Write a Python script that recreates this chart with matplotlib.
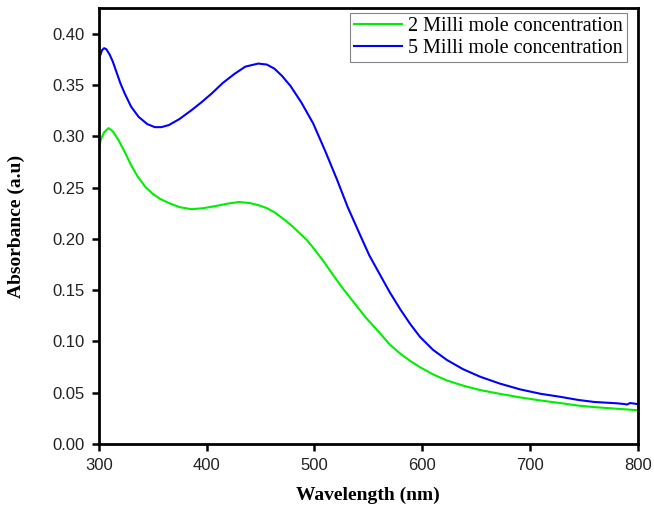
import matplotlib
matplotlib.use("Agg")
import matplotlib.pyplot as plt

# Values
wl_2mm = [300, 302, 305, 309, 313, 318, 324, 330, 336, 343, 350, 357, 365, 375, 386,
          397, 408, 420, 430, 440, 448, 456, 463, 472, 480, 487, 493, 500, 508, 518,
          527, 536, 548, 561, 570, 580, 589, 598, 610, 623, 638, 654, 672, 691, 710,
          728, 745, 760, 780, 800]
abs_2mm = [0.287, 0.297, 0.304, 0.308, 0.305, 0.297, 0.285, 0.272, 0.261, 0.251, 0.244,
           0.239, 0.235, 0.231, 0.229, 0.230, 0.232, 0.2345, 0.236, 0.235, 0.233, 0.230,
           0.226, 0.219, 0.212, 0.205, 0.199, 0.190, 0.179, 0.164, 0.151, 0.139, 0.123,
           0.108, 0.097, 0.088, 0.081, 0.075, 0.068, 0.062, 0.057, 0.0526, 0.049,
           0.0455, 0.0425, 0.040, 0.0375, 0.036, 0.0345, 0.033]

wl_5mm = [300, 301, 303, 305, 307, 310, 313, 316, 320, 324, 330, 337, 345, 352, 358,
          365, 375, 386, 395, 405, 415, 426, 436, 448, 456, 463, 470, 478, 488, 499,
          510, 521, 531, 542, 551, 561, 570, 580, 589, 598, 610, 623, 638, 654, 672,
          691, 710, 728, 745, 760, 780, 788, 790, 793, 800]
abs_5mm = [0.374, 0.378, 0.384, 0.386, 0.385, 0.380, 0.373, 0.364, 0.352, 0.342, 0.329,
           0.319, 0.312, 0.309, 0.309, 0.311, 0.317, 0.3255, 0.333, 0.342, 0.352, 0.361,
           0.368, 0.371, 0.370, 0.366, 0.359, 0.349, 0.333, 0.3125, 0.286, 0.258,
           0.231, 0.205, 0.184, 0.165, 0.148, 0.131, 0.117, 0.1046, 0.092, 0.082,
           0.073, 0.0656, 0.059, 0.0533, 0.049, 0.0461, 0.043, 0.041, 0.0398, 0.039,
           0.0385, 0.040, 0.039]

x_ticks = [300, 400, 500, 600, 700, 800]
y_ticks = [0.00, 0.05, 0.10, 0.15, 0.20, 0.25, 0.30, 0.35, 0.40]

fig = plt.figure(figsize=(6.54, 5.11), dpi=100)
ax = fig.add_axes([0.151, 0.131, 0.824, 0.853])

ax.plot(wl_2mm, abs_2mm, color="#00ee00", lw=1.5, label="2 Milli mole concentration")
ax.plot(wl_5mm, abs_5mm, color="#0000ff", lw=1.5, label="5 Milli mole concentration")

ax.set_xlim(300, 800)
ax.set_ylim(0, 0.425)
ax.set_xticks(x_ticks)
ax.set_yticks(y_ticks)
ax.set_yticklabels(["%.2f" % v for v in y_ticks])

for s in ax.spines.values():
    s.set_linewidth(2.0)
ax.tick_params(direction="out", length=5, width=1.8, labelsize=12, pad=5)
for lab in ax.get_xticklabels() + ax.get_yticklabels():
    lab.set_family("Liberation Sans")
    lab.set_color("#222222")

ax.set_xlabel("Wavelength (nm)", family="Liberation Serif", fontweight="bold",
              fontsize=14, labelpad=10)
ax.set_ylabel("Absorbance (a.u)", family="Liberation Serif", fontweight="bold",
              fontsize=14, labelpad=20)

leg = ax.legend(loc="upper right", bbox_to_anchor=(0.980, 0.989), borderaxespad=0,
                prop={"family": "Liberation Serif", "size": 14.5},
                frameon=True, fancybox=False, handlelength=2.4, handletextpad=0.3,
                borderpad=0.2, labelspacing=0.12)
leg.get_frame().set_edgecolor("#666666")
leg.get_frame().set_linewidth(0.8)

fig.savefig("out.png", dpi=100)
